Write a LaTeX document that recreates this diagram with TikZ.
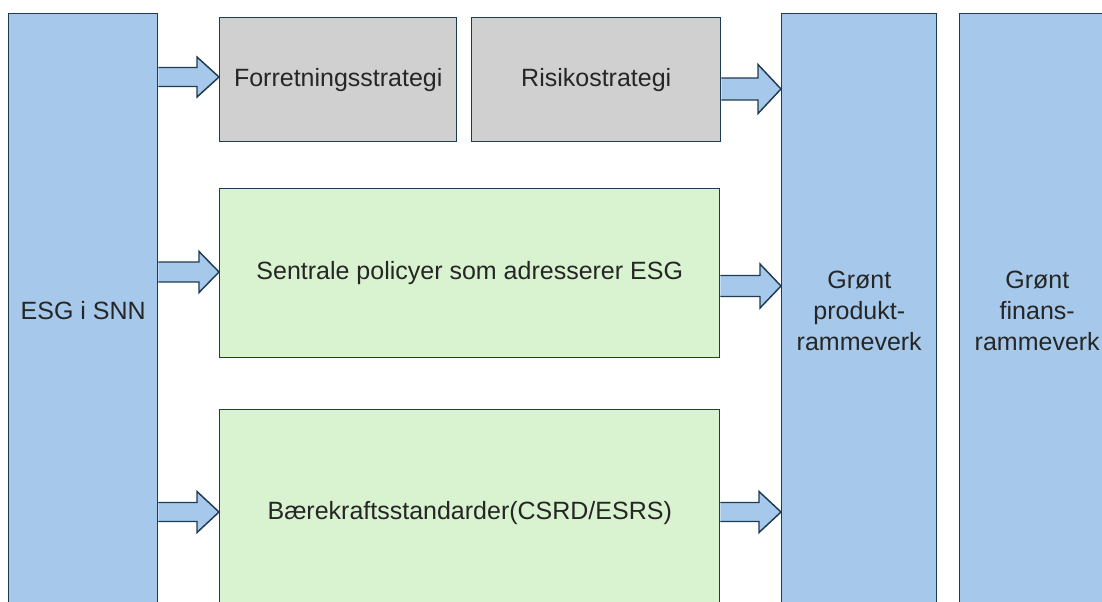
\documentclass[tikz,border=0pt]{standalone}
\usepackage{fontspec}
\setmainfont{Liberation Sans}
\usetikzlibrary{calc}
\definecolor{bluefill}{HTML}{A6C9EB}
\definecolor{greyfill}{HTML}{D0D0D0}
\definecolor{greenfill}{HTML}{D9F2D0}
\definecolor{edge}{HTML}{1F3B4F}
\definecolor{txt}{HTML}{262626}
\def\u{0.75pt}
\newcommand\blkarr[7]{% from, to, y, half shaft, half head, head length
  \filldraw[arr] let \p1=(#1.east), \p2=(#2.west), \p3=(0,#3) in
    (\x1,{\y3+#4*\u}) -- ({\x2-#6*\u},{\y3+#4*\u}) -- ({\x2-#6*\u},{\y3+#5*\u})
    -- (\x2,\y3) -- ({\x2-#6*\u},{\y3-#5*\u}) -- ({\x2-#6*\u},{\y3-#4*\u})
    -- (\x1,{\y3-#4*\u}) #7;}
\begin{document}
\begin{tikzpicture}[x=0.75pt,y=-0.75pt,
  box/.style={draw=edge,line width=1.1pt,inner sep=0pt,anchor=north west,
    text=txt,font=\fontsize{18.75pt}{23.25pt}\selectfont,align=center},
  bluebox/.style={box,fill=bluefill},
  greybox/.style={box,fill=greyfill},
  greenbox/.style={box,fill=greenfill},
  arr/.style={draw=edge,fill=bluefill,line width=1.1pt,line join=miter}]
\path[use as bounding box] (0,0) rectangle (1102,601);
\clip (0,0) rectangle (1102,601);
\node[bluebox,minimum width=149*\u,minimum height=594*\u] (esg) at (8,13) {ESG i SNN};
\node[greybox,minimum width=237*\u,minimum height=124*\u] (forr) at (219,17) {Forretningsstrategi};
\node[greybox,minimum width=249*\u,minimum height=124*\u] (risk) at (471,17) {Risikostrategi};
\node[greenbox,minimum width=500*\u,minimum height=169*\u] (pol) at (219,188) {Sentrale policyer som adresserer ESG};
\node[greenbox,minimum width=500*\u,minimum height=206*\u] (std) at (219,409) {Bærekraftsstandarder(CSRD/ESRS)};
\node[bluebox,minimum width=155*\u,minimum height=594*\u] (prod) at (781,13) {Grønt\\produkt-\\rammeverk};
\node[bluebox,minimum width=155*\u,minimum height=594*\u] (fin) at (959,13) {Grønt\\finans-\\rammeverk};
\blkarr{esg}{forr}{77}{9.5}{20}{22}{}
\blkarr{risk}{prod}{89}{11}{24.5}{23}{}
\blkarr{esg}{pol}{272}{10}{20.5}{20}{}
\blkarr{pol}{prod}{286}{10.5}{22}{21}{}
\blkarr{esg}{std}{512}{9.5}{20.5}{22}{}
\blkarr{std}{prod}{512}{9.5}{20.5}{22}{}
\end{tikzpicture}
\end{document}
